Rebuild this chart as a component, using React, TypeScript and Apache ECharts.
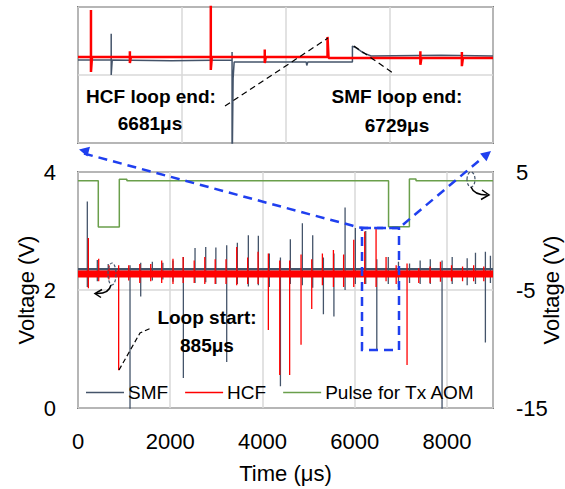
import React, { useEffect, useRef } from "react";
import * as echarts from "echarts";

const FONT = '"Liberation Sans", Arial, sans-serif';

const SMF_COLOR = "#44546A";
const HCF_COLOR = "#FF0000";
const PULSE_COLOR = "#6A9F4B";
const NOTE_BLUE = "#1F3FEF";

// Baseline levels of the two receiver traces (V)
const smfBase = 2.35;
const hcfBase = 2.27;

// Round-trip pulses seen on the SMF trace: [time µs, peak V, trough V]
const smfSpikes: number[][] = [
  [202, 3.5, 2.05],
  [419, 2.51, 2.15],
  [655, 2.44, 2.22],
  [1128, 2.42, -0.2],
  [1360, 2.46, 1.89],
  [1612, 2.48, 2.16],
  [1840, 2.46, 2.18],
  [2060, 2.5, 2.14],
  [2285, 2.56, 0.51],
  [2538, 2.71, 2.12],
  [2770, 2.73, 2.13],
  [2990, 2.72, 2.1],
  [3225, 2.76, 0.78],
  [3456, 2.8, 2.1],
  [3694, 2.93, 2.06],
  [3911, 2.92, 2.08],
  [4150, 2.62, 2.05],
  [4390, 2.55, 0.37],
  [4605, 2.86, 2.1],
  [4866, 3.13, 2.08],
  [5090, 2.93, 2.04],
  [5322, 2.55, 1.59],
  [5550, 2.62, 1.55],
  [5792, 3.4, 2.0],
  [6015, 3.05, 2.1],
  [6240, 3.0, 2.1],
  [6480, 2.52, 0.98],
  [6729, 2.56, 2.1],
  [6950, 2.48, 2.05],
  [7190, 2.45, 2.12],
  [7420, 2.5, 2.1],
  [7640, 2.52, 2.1],
  [7895, 2.5, -0.2],
  [8115, 2.56, 2.1],
  [8440, 2.54, 2.08],
  [8620, 2.63, 2.1],
  [8835, 2.65, 1.11],
  [8944, 2.58, 2.12],
];

// Round-trip pulses seen on the HCF trace: [time µs, peak V, trough V]
const hcfSpikes: number[][] = [
  [225, 2.88, 2.03],
  [449, 2.53, 2.15],
  [670, 2.42, 2.18],
  [882, 2.42, 0.64],
  [1100, 2.42, 2.16],
  [1340, 2.44, 2.12],
  [1577, 2.44, 2.15],
  [1815, 2.5, 2.12],
  [2060, 2.53, 2.1],
  [2280, 2.56, 2.12],
  [2520, 2.5, 2.12],
  [2750, 2.56, 2.1],
  [2975, 2.52, 2.1],
  [3210, 2.52, 2.1],
  [3442, 2.73, 2.08],
  [3680, 2.55, 2.1],
  [3905, 2.65, 2.1],
  [4128, 2.62, 1.32],
  [4375, 2.5, 0.56],
  [4590, 2.5, 0.56],
  [4837, 2.6, 1.07],
  [5069, 2.52, 1.68],
  [5300, 2.62, 2.08],
  [5539, 2.68, 2.05],
  [5760, 2.6, 2.05],
  [5980, 2.85, 2.05],
  [6218, 2.99, 2.1],
  [6464, 3.05, 2.05],
  [6681, 2.56, 2.15],
  [6900, 2.42, 2.1],
  [7136, 2.45, 0.73],
  [7390, 2.37, 2.12],
  [7635, 2.4, 2.12],
  [7860, 2.48, 2.14],
  [8100, 2.42, 2.15],
  [8340, 2.4, 2.15],
  [8580, 2.42, 2.15],
  [8800, 2.4, 2.15],
];

// Gate signal driving the Tx AOM (right axis, V)
const pulseTrace: number[][] = [
  [0, 4.26],
  [440, 4.26],
  [440, 0.33],
  [896, 0.33],
  [896, 4.38],
  [1060, 4.38],
  [1060, 4.26],
  [6735, 4.26],
  [6735, 0.35],
  [7187, 0.35],
  [7187, 4.4],
  [7330, 4.4],
  [7330, 4.26],
  [9000, 4.26],
];

// Close-up around the loop end (6200–7000 µs)
const zoomHcf: number[][] = [
  [6200, 2.253],
  [6225, 2.253],
  [6225, 2.391],
  [6225, 2.209],
  [6227, 2.253],
  [6300, 2.253],
  [6300, 2.27],
  [6300, 2.235],
  [6302, 2.253],
  [6456, 2.253],
  [6456, 2.45],
  [6456, 2.215],
  [6458, 2.253],
  [6560, 2.253],
  [6560, 2.275],
  [6560, 2.235],
  [6562, 2.253],
  [6681, 2.253],
  [6681, 2.312],
  [6683, 2.25],
  [6860, 2.25],
  [6860, 2.27],
  [6860, 2.23],
  [6862, 2.25],
  [6940, 2.25],
  [6940, 2.268],
  [6940, 2.226],
  [6942, 2.25],
  [7000, 2.25],
];

const zoomSmf: number[][] = [
  [6200, 2.244],
  [6264, 2.244],
  [6264, 2.321],
  [6264, 2.2],
  [6266, 2.244],
  [6380, 2.242],
  [6497, 2.244],
  [6497, 2.268],
  [6497, 1.9],
  [6499, 2.19],
  [6501, 2.238],
  [6640, 2.238],
  [6641, 2.228],
  [6643, 2.238],
  [6729, 2.238],
  [6729, 2.285],
  [6737, 2.279],
  [6750, 2.265],
  [6765, 2.256],
  [6900, 2.258],
  [7000, 2.256],
];

// Turn a baseline plus a list of [t, peak, trough] spikes into a trace
function buildTrace(base: number, spikes: number[][], start: number, end: number) {
  const pts: number[][] = [[start, base]];
  for (const [t, hi, lo] of spikes) {
    pts.push([t, base], [t, hi], [t, lo], [t, base]);
  }
  pts.push([end, base]);
  return pts;
}

const tickText = { fontSize: 22, fontFamily: FONT, color: "#000" };
const gridLine = { show: true, lineStyle: { color: "#D9D9D9", width: 1.5 } };
const plainNumber = (v: number) => String(v);

function arrowHead(points: number[][], color: string) {
  return { type: "polygon", z: 60, shape: { points }, style: { fill: color } };
}

function chevron(points: number[][]) {
  return { type: "polyline", z: 60, shape: { points }, style: { stroke: "#000", lineWidth: 1.5, fill: "none" } };
}

function label(text: string, x: number, y: number) {
  return {
    type: "text",
    z: 70,
    x,
    y,
    style: {
      text,
      font: `bold 19px ${FONT}`,
      fill: "#000",
      align: "center",
      verticalAlign: "middle",
      textAlign: "center",
      textVerticalAlign: "middle",
    },
  };
}

function dashed(points: number[][], color: string, width: number, dash: number[]) {
  return {
    type: "polyline",
    z: 60,
    shape: { points },
    style: { stroke: color, lineWidth: width, lineDash: dash, fill: "none" },
  };
}

export default function App() {
  const ref = useRef<HTMLDivElement>(null);

  useEffect(() => {
    const chart = echarts.init(ref.current!, null, { renderer: "svg" });
    const option: any = {
      animation: false,
      backgroundColor: "#fff",
      textStyle: { fontFamily: FONT },
      grid: [
        {
          left: 78, top: 172, width: 415, height: 236,
          outerBoundsMode: "none", containLabel: false,
          show: true, borderColor: "#1a1a1a", borderWidth: 1.5, backgroundColor: "transparent",
        },
        {
          left: 78, top: 7, width: 415, height: 136,
          outerBoundsMode: "none", containLabel: false,
          show: true, borderColor: "#1a1a1a", borderWidth: 1.5, backgroundColor: "#fff",
        },
      ],
      legend: {
        data: ["SMF", "HCF", "Pulse for Tx AOM"],
        left: 86,
        top: 383,
        padding: 0,
        icon: "rect",
        itemWidth: 38,
        itemHeight: 1.5,
        itemGap: 17,
        textStyle: { fontSize: 19, fontFamily: FONT, color: "#000", padding: [0, 0, 0, -1] },
      },
      xAxis: [
        {
          type: "value",
          gridIndex: 0,
          min: 0,
          max: 9000,
          interval: 2000,
          axisLine: { show: false },
          axisTick: { show: false },
          axisLabel: { ...tickText, margin: 22, showMaxLabel: false, formatter: plainNumber },
          splitLine: gridLine,
          name: "Time (μs)",
          nameLocation: "middle",
          nameGap: 54,
          nameMoveOverlap: false,
          nameTextStyle: tickText,
        },
        {
          type: "value",
          gridIndex: 1,
          min: 6200,
          max: 7000,
          interval: 200,
          axisLine: { show: false },
          axisTick: { show: false },
          axisLabel: { show: false },
          splitLine: gridLine,
        },
      ],
      yAxis: [
        {
          type: "value",
          gridIndex: 0,
          position: "left",
          min: 0,
          max: 4,
          interval: 2,
          axisLine: { show: false },
          axisTick: { show: false },
          axisLabel: { ...tickText, margin: 22, formatter: plainNumber },
          splitLine: gridLine,
          name: "Voltage (V)",
          nameLocation: "middle",
          nameRotate: 90,
          nameGap: 41,
          nameMoveOverlap: false,
          nameTextStyle: tickText,
        },
        {
          type: "value",
          gridIndex: 0,
          position: "right",
          min: -15,
          max: 5,
          axisLine: { show: false },
          axisTick: { show: false, customValues: [-15, -5, 5] },
          axisLabel: { ...tickText, margin: 23, customValues: [-15, -5, 5], formatter: plainNumber },
          splitLine: { show: false },
          name: "Voltage (V)",
          nameLocation: "middle",
          nameRotate: 90,
          nameGap: 47,
          nameMoveOverlap: false,
          nameTextStyle: tickText,
        },
        {
          type: "value",
          gridIndex: 1,
          min: 2.0,
          max: 2.4,
          interval: 0.2,
          axisLine: { show: false },
          axisTick: { show: false },
          axisLabel: { show: false },
          splitLine: gridLine,
        },
      ],
      series: [
        {
          name: "SMF noise",
          type: "line",
          xAxisIndex: 0,
          yAxisIndex: 0,
          symbol: "none",
          silent: true,
          data: [[0, smfBase], [9000, smfBase]],
          lineStyle: { color: SMF_COLOR, width: 2.5 },
          itemStyle: { color: SMF_COLOR },
          z: 2,
        },
        {
          name: "SMF",
          type: "line",
          xAxisIndex: 0,
          yAxisIndex: 0,
          symbol: "none",
          data: buildTrace(smfBase, smfSpikes, 0, 9000),
          lineStyle: { color: SMF_COLOR, width: 1.3 },
          itemStyle: { color: SMF_COLOR },
          z: 2,
        },
        {
          name: "HCF noise",
          type: "line",
          xAxisIndex: 0,
          yAxisIndex: 0,
          symbol: "none",
          silent: true,
          data: [[0, hcfBase], [9000, hcfBase]],
          lineStyle: { color: HCF_COLOR, width: 7 },
          itemStyle: { color: HCF_COLOR },
          z: 3,
        },
        {
          name: "HCF",
          type: "line",
          xAxisIndex: 0,
          yAxisIndex: 0,
          symbol: "none",
          data: buildTrace(hcfBase, hcfSpikes, 0, 9000),
          lineStyle: { color: HCF_COLOR, width: 1.3 },
          itemStyle: { color: HCF_COLOR },
          z: 3,
        },
        {
          name: "Pulse for Tx AOM",
          type: "line",
          xAxisIndex: 0,
          yAxisIndex: 1,
          symbol: "none",
          data: pulseTrace,
          lineStyle: { color: PULSE_COLOR, width: 1.5 },
          itemStyle: { color: PULSE_COLOR },
          z: 4,
        },
        {
          name: "SMF close-up",
          type: "line",
          xAxisIndex: 1,
          yAxisIndex: 2,
          symbol: "none",
          data: zoomSmf,
          lineStyle: { color: SMF_COLOR, width: 1.5 },
          itemStyle: { color: SMF_COLOR },
          z: 2,
        },
        {
          name: "HCF close-up",
          type: "line",
          xAxisIndex: 1,
          yAxisIndex: 2,
          symbol: "none",
          data: zoomHcf,
          lineStyle: { color: HCF_COLOR, width: 2.5 },
          itemStyle: { color: HCF_COLOR },
          z: 3,
        },
      ],
      graphic: [
        // zoom guide from the main plot to the close-up
        dashed([[84, 153.5], [300, 211.7], [352, 225.5], [358, 227.5], [365, 228], [399, 228], [487, 154]], NOTE_BLUE, 2.5, [9, 6]),
        arrowHead([[79, 149.5], [90, 146.8], [87.4, 156.4]], NOTE_BLUE),
        arrowHead([[491, 151], [486.5, 161.2], [480.1, 153.6]], NOTE_BLUE),
        {
          type: "rect",
          z: 60,
          shape: { x: 362, y: 228, width: 37, height: 122 },
          style: { stroke: NOTE_BLUE, lineWidth: 2.5, lineDash: [9, 6], fill: "none" },
        },
        // axis pointers for the traces
        {
          type: "ellipse",
          z: 60,
          shape: { cx: 112, cy: 274, rx: 4, ry: 11 },
          style: { stroke: SMF_COLOR, lineWidth: 1.2, lineDash: [3, 2], fill: "none" },
        },
        {
          type: "bezierCurve",
          z: 60,
          shape: { x1: 111, y1: 285, cpx1: 109, cpy1: 294, x2: 96, y2: 293.5 },
          style: { stroke: "#000", lineWidth: 1.5, fill: "none" },
        },
        chevron([[102, 289.5], [95, 293.5], [101, 297.5]]),
        {
          type: "ellipse",
          z: 60,
          shape: { cx: 471, cy: 179.5, rx: 4, ry: 7.5 },
          style: { stroke: SMF_COLOR, lineWidth: 1.2, lineDash: [3, 2], fill: "none" },
        },
        {
          type: "bezierCurve",
          z: 60,
          shape: { x1: 471, y1: 187, cpx1: 474, cpy1: 195, x2: 487, y2: 195 },
          style: { stroke: "#000", lineWidth: 1.5, fill: "none" },
        },
        chevron([[482, 190], [489, 195], [481, 199.5]]),
        // callouts
        dashed([[119, 370], [140, 333], [151, 328]], "#000", 1.2, [5, 3]),
        dashed([[225, 106], [328, 38]], "#000", 1.2, [6, 4]),
        dashed([[354, 46], [393, 73]], "#000", 1.2, [6, 4]),
        label("Loop start:", 207, 317),
        label("885μs", 207, 345),
        label("HCF loop end:", 151, 96),
        label("6681μs", 150, 123),
        label("SMF loop end:", 397, 96),
        label("6729μs", 397, 125),
      ],
    };
    chart.setOption(option);
    return () => chart.dispose();
  }, []);

  return <div ref={ref} style={{ position: "fixed", left: 0, top: 0, width: 565, height: 489 }} />;
}
